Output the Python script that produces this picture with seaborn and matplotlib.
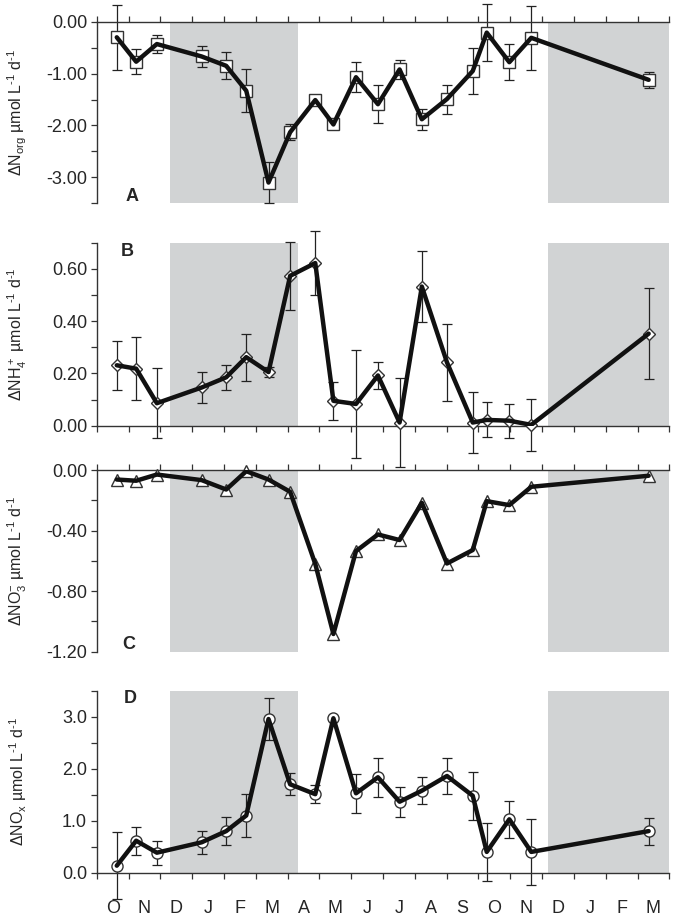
import numpy as np
import matplotlib
matplotlib.use('Agg')
from matplotlib import pyplot as plt
from matplotlib.ticker import MultipleLocator, FixedLocator, NullFormatter, FixedFormatter
import seaborn as sns

# sampling dates in month units (0 = start of October)
months_x = [0.63, 1.24, 1.89, 3.30, 4.07, 4.70, 5.40, 6.08, 6.87, 7.44,
            8.15, 8.84, 9.52, 10.22, 11.01, 11.82, 12.26, 12.97, 13.66, 17.35]
month_labels = ['O', 'N', 'D', 'J', 'F', 'M', 'A', 'M', 'J', 'J',
                'A', 'S', 'O', 'N', 'D', 'J', 'F', 'M']
winter_spans = [(2.30, 6.34), (14.2, 18.0)]

norg = [-0.30, -0.77, -0.43, -0.67, -0.85, -1.33, -3.10, -2.13, -1.51, -1.98,
        -1.07, -1.59, -0.92, -1.88, -1.49, -0.95, -0.21, -0.78, -0.31, -1.12]
norg_err = [0.63, 0.24, 0.18, 0.20, 0.26, 0.41, 0.40, 0.15, 0.05, 0.05,
            0.29, 0.37, 0.19, 0.20, 0.28, 0.44, 0.55, 0.35, 0.62, 0.15]

nh4 = [0.231, 0.218, 0.086, 0.146, 0.185, 0.262, 0.205, 0.573, 0.622, 0.095,
       0.083, 0.192, 0.012, 0.532, 0.242, 0.012, 0.022, 0.019, 0.003, 0.352]
nh4_err = [0.094, 0.12, 0.135, 0.06, 0.048, 0.09, 0.02, 0.13, 0.123, 0.072,
           0.205, 0.05, 0.17, 0.135, 0.147, 0.117, 0.067, 0.065, 0.10, 0.173]

no3 = [-0.062, -0.070, -0.029, -0.066, -0.128, -0.007, -0.062, -0.143, -0.620, -1.083,
       -0.535, -0.425, -0.462, -0.216, -0.617, -0.528, -0.205, -0.231, -0.110, -0.037]

nox = [0.135, 0.615, 0.385, 0.585, 0.80, 1.10, 2.955, 1.70, 1.51, 2.97,
       1.527, 1.835, 1.365, 1.577, 1.86, 1.48, 0.40, 1.027, 0.40, 0.80]
nox_err = [0.65, 0.27, 0.23, 0.22, 0.27, 0.42, 0.40, 0.21, 0.17, 0.03,
           0.38, 0.38, 0.29, 0.26, 0.34, 0.46, 0.55, 0.36, 0.63, 0.26]

sns.set_style('ticks')
plt.rcParams['font.family'] = ['Liberation Sans', 'DejaVu Sans']
plt.rcParams['mathtext.default'] = 'regular'

fig = plt.figure(figsize=(6.75, 9.17), dpi=100)
left, width = 0.1433, 0.8483
boxes = [0.7783, 0.5358, 0.2893, 0.0483]
heights = [0.198, 0.1996, 0.198, 0.1985]

unit = r' µmol L$^{‐1}$ d$^{‐1}$'
panels = [
    dict(y=norg, err=norg_err, marker='s', ms=8, ylim=(-3.5, 0), major=1.0, minor=0.5, fmt='%.2f',
         axis_top=True, letter='A', lpos=(0.061, 0.035),
         ylabel=r'$\Delta$N$_{org}$' + unit),
    dict(y=nh4, err=nh4_err, marker='D', ms=6, ylim=(0, 0.70), major=0.2, minor=0.1, fmt='%.2f',
         axis_top=False, letter='B', lpos=(0.053, 0.951),
         ylabel=r'$\Delta$NH$_4^+$' + unit),
    dict(y=no3, err=None, marker='^', ms=8, ylim=(-1.2, 0), major=0.4, minor=0.2, fmt='%.2f',
         axis_top=True, letter='C', lpos=(0.056, 0.037),
         ylabel=r'$\Delta$NO$_3^{-}$' + unit),
    dict(y=nox, err=nox_err, marker='o', ms=8, ylim=(0, 3.5), major=1.0, minor=0.5, fmt='%.1f',
         axis_top=False, letter='D', lpos=(0.058, 0.958),
         ylabel=r'$\Delta$NO$_x$' + unit),
]

spine_c = '#333333'
for i, p in enumerate(panels):
    ax = fig.add_axes([left, boxes[i], width, heights[i]])
    for a, b in winter_spans:
        ax.axvspan(a, b, color='#d1d3d4', lw=0, zorder=0)

    if p['err'] is not None:
        ax.errorbar(months_x, p['y'], yerr=p['err'], fmt='none', ecolor='#222222',
                    elinewidth=0.9, capsize=3.5, capthick=0.9, zorder=2, clip_on=False)
    ax.plot(months_x, p['y'], linestyle='none', marker=p['marker'], ms=p['ms'],
            mfc='white', mec='#333333', mew=1.0, zorder=3, clip_on=False)
    sns.lineplot(x=months_x, y=p['y'], ax=ax, color='#111111', lw=3.2, zorder=4)

    ax.set_xlim(0, 18)
    ax.set_ylim(*p['ylim'])
    ax.yaxis.set_major_locator(MultipleLocator(p['major']))
    ax.yaxis.set_minor_locator(MultipleLocator(p['minor']))
    ax.yaxis.set_major_formatter(matplotlib.ticker.FormatStrFormatter(p['fmt']))
    ax.tick_params(axis='y', which='both', direction='out', length=4, width=0.9,
                   color=spine_c, labelsize=13, pad=3)

    ax.xaxis.set_major_locator(FixedLocator(np.arange(0, 19)))
    ax.xaxis.set_minor_locator(FixedLocator(np.arange(0.5, 18, 1)))
    ax.xaxis.set_major_formatter(NullFormatter())
    ax.spines['right'].set_visible(False)
    ax.spines['left'].set_color(spine_c)
    if p['axis_top']:
        ax.spines['bottom'].set_visible(False)
        ax.spines['top'].set_color(spine_c)
        ax.xaxis.set_ticks_position('top')
        ax.xaxis.set_minor_formatter(NullFormatter())
        ax.tick_params(axis='x', which='major', direction='out', length=4, width=0.9, color=spine_c)
        ax.tick_params(axis='x', which='minor', length=0)
    else:
        ax.spines['top'].set_visible(False)
        ax.spines['bottom'].set_color(spine_c)
        ax.xaxis.set_ticks_position('bottom')
        ax.tick_params(axis='x', which='major', direction='out', length=4, width=0.9, color=spine_c)
        if i == 3:
            ax.xaxis.set_minor_formatter(FixedFormatter(month_labels))
            ax.tick_params(axis='x', which='minor', length=0, labelsize=13, pad=20)
        else:
            ax.xaxis.set_minor_formatter(NullFormatter())
            ax.tick_params(axis='x', which='minor', length=0)
    for s in ax.spines.values():
        s.set_linewidth(1.0)

    ax.set_ylabel(p['ylabel'], fontsize=11.5)
    ax.yaxis.set_label_coords(-0.118, 0.5)
    ax.set_xlabel('')
    ax.text(p['lpos'][0], p['lpos'][1], p['letter'], transform=ax.transAxes,
            fontsize=13, fontweight='bold', ha='center', va='center')

fig.savefig('out.png', dpi=100)
